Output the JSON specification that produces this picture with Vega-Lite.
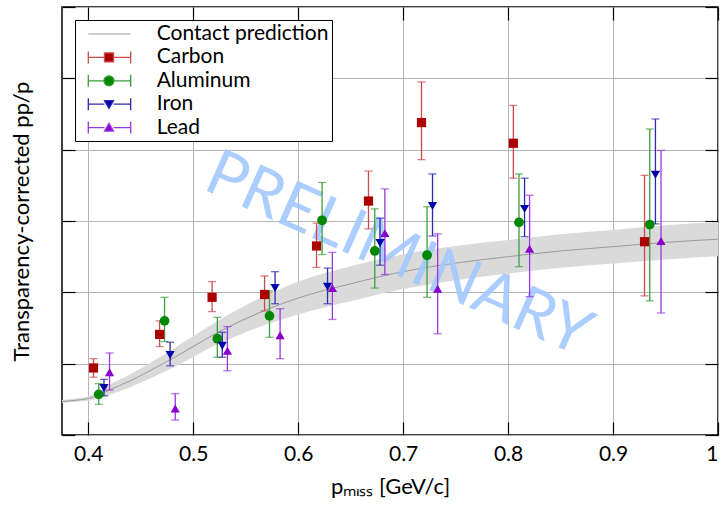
{
  "$schema": "https://vega.github.io/schema/vega-lite/v6.json",
  "width": 656,
  "height": 428,
  "autosize": "none",
  "padding": {"left": 62, "top": 7, "right": 7, "bottom": 72},
  "background": "white",
  "config": {
    "font": "Lato",
    "view": {"stroke": "black", "strokeWidth": 1.5},
    "axis": {
      "labelFont": "Lato",
      "titleFont": "Lato",
      "labelColor": "black",
      "titleColor": "black",
      "tickColor": "black",
      "gridColor": "#b4b4b4",
      "gridWidth": 1,
      "domain": false,
      "titleFontWeight": "normal"
    },
    "legend": {
      "title": null,
      "orient": "top-left",
      "offset": 13,
      "padding": 3,
      "strokeColor": "black",
      "fillColor": "white",
      "labelFont": "Lato",
      "labelFontSize": 21,
      "labelColor": "black",
      "labelLimit": 600,
      "labelOffset": 56.7,
      "rowPadding": 2.4,
      "symbolSize": 400,
      "symbolStrokeWidth": 1.3,
      "symbolOpacity": 1
    }
  },
  "datasets": {
    "points": [
      {"series": "Carbon", "x": 0.405, "y": 0.94, "lo": 0.81, "hi": 1.07},
      {"series": "Carbon", "x": 0.468, "y": 1.41, "lo": 1.24, "hi": 1.60},
      {"series": "Carbon", "x": 0.518, "y": 1.93, "lo": 1.73, "hi": 2.15},
      {"series": "Carbon", "x": 0.568, "y": 1.97, "lo": 1.74, "hi": 2.23},
      {"series": "Carbon", "x": 0.6175, "y": 2.65, "lo": 2.35, "hi": 2.97},
      {"series": "Carbon", "x": 0.667, "y": 3.28, "lo": 2.89, "hi": 3.70},
      {"series": "Carbon", "x": 0.7175, "y": 4.38, "lo": 3.86, "hi": 4.95},
      {"series": "Carbon", "x": 0.805, "y": 4.09, "lo": 3.60, "hi": 4.62},
      {"series": "Carbon", "x": 0.930, "y": 2.71, "lo": 1.95, "hi": 3.64},
      {"series": "Aluminum", "x": 0.410, "y": 0.57, "lo": 0.43, "hi": 0.72},
      {"series": "Aluminum", "x": 0.4727, "y": 1.60, "lo": 1.31, "hi": 1.93},
      {"series": "Aluminum", "x": 0.523, "y": 1.35, "lo": 1.09, "hi": 1.65},
      {"series": "Aluminum", "x": 0.5727, "y": 1.67, "lo": 1.37, "hi": 2.02},
      {"series": "Aluminum", "x": 0.6228, "y": 3.01, "lo": 2.53, "hi": 3.54},
      {"series": "Aluminum", "x": 0.673, "y": 2.58, "lo": 2.06, "hi": 3.17},
      {"series": "Aluminum", "x": 0.7228, "y": 2.52, "lo": 1.93, "hi": 3.20},
      {"series": "Aluminum", "x": 0.8104, "y": 2.98, "lo": 2.36, "hi": 3.66},
      {"series": "Aluminum", "x": 0.935, "y": 2.95, "lo": 1.88, "hi": 4.29},
      {"series": "Iron", "x": 0.415, "y": 0.66, "lo": 0.55, "hi": 0.78},
      {"series": "Iron", "x": 0.478, "y": 1.12, "lo": 0.97, "hi": 1.30},
      {"series": "Iron", "x": 0.5277, "y": 1.25, "lo": 1.09, "hi": 1.44},
      {"series": "Iron", "x": 0.578, "y": 2.06, "lo": 1.84, "hi": 2.29},
      {"series": "Iron", "x": 0.628, "y": 2.08, "lo": 1.84, "hi": 2.34},
      {"series": "Iron", "x": 0.678, "y": 2.69, "lo": 2.38, "hi": 3.04},
      {"series": "Iron", "x": 0.728, "y": 3.21, "lo": 2.79, "hi": 3.66},
      {"series": "Iron", "x": 0.8157, "y": 3.17, "lo": 2.78, "hi": 3.60},
      {"series": "Iron", "x": 0.9404, "y": 3.65, "lo": 2.96, "hi": 4.43},
      {"series": "Lead", "x": 0.4203, "y": 0.88, "lo": 0.63, "hi": 1.15},
      {"series": "Lead", "x": 0.4829, "y": 0.37, "lo": 0.21, "hi": 0.58},
      {"series": "Lead", "x": 0.5326, "y": 1.18, "lo": 0.90, "hi": 1.52},
      {"series": "Lead", "x": 0.5828, "y": 1.40, "lo": 1.07, "hi": 1.77},
      {"series": "Lead", "x": 0.6326, "y": 2.06, "lo": 1.62, "hi": 2.56},
      {"series": "Lead", "x": 0.6826, "y": 2.83, "lo": 2.25, "hi": 3.45},
      {"series": "Lead", "x": 0.7329, "y": 2.05, "lo": 1.42, "hi": 2.82},
      {"series": "Lead", "x": 0.8205, "y": 2.61, "lo": 1.94, "hi": 3.36},
      {"series": "Lead", "x": 0.9457, "y": 2.72, "lo": 1.71, "hi": 3.99}
    ],
    "band": [
      {"x": 0.375, "lo": 0.45, "mid": 0.47, "hi": 0.49},
      {"x": 0.39, "lo": 0.465, "mid": 0.49, "hi": 0.515},
      {"x": 0.40, "lo": 0.48, "mid": 0.51, "hi": 0.54},
      {"x": 0.41, "lo": 0.51, "mid": 0.56, "hi": 0.61},
      {"x": 0.42, "lo": 0.56, "mid": 0.63, "hi": 0.70},
      {"x": 0.44, "lo": 0.67, "mid": 0.76, "hi": 0.85},
      {"x": 0.46, "lo": 0.80, "mid": 0.91, "hi": 1.02},
      {"x": 0.48, "lo": 0.94, "mid": 1.07, "hi": 1.20},
      {"x": 0.50, "lo": 1.095, "mid": 1.24, "hi": 1.385},
      {"x": 0.52, "lo": 1.25, "mid": 1.41, "hi": 1.57},
      {"x": 0.55, "lo": 1.44, "mid": 1.63, "hi": 1.82},
      {"x": 0.60, "lo": 1.69, "mid": 1.92, "hi": 2.15},
      {"x": 0.65, "lo": 1.875, "mid": 2.12, "hi": 2.365},
      {"x": 0.70, "lo": 2.045, "mid": 2.29, "hi": 2.535},
      {"x": 0.75, "lo": 2.17, "mid": 2.41, "hi": 2.65},
      {"x": 0.80, "lo": 2.265, "mid": 2.50, "hi": 2.735},
      {"x": 0.85, "lo": 2.345, "mid": 2.58, "hi": 2.815},
      {"x": 0.90, "lo": 2.405, "mid": 2.64, "hi": 2.875},
      {"x": 0.95, "lo": 2.46, "mid": 2.70, "hi": 2.94},
      {"x": 1.00, "lo": 2.505, "mid": 2.745, "hi": 2.985}
    ],
    "legendEntries": [
      {"series": "Contact prediction"},
      {"series": "Carbon"},
      {"series": "Aluminum"},
      {"series": "Iron"},
      {"series": "Lead"}
    ]
  },
  "layer": [
    {
      "data": {"name": "band"},
      "mark": {"type": "area", "color": "#dadada", "interpolate": "monotone"},
      "encoding": {
        "x": {
          "field": "x", "type": "quantitative",
          "scale": {"domain": [0.375, 1.0], "nice": false, "zero": false},
          "axis": {
            "orient": "bottom",
            "values": [0.4, 0.5, 0.6, 0.7, 0.8, 0.9, 1],
            "labelExpr": "datum.value == 1 ? '1' : format(datum.value, '.1f')",
            "grid": true,
            "ticks": true,
            "tickSize": -13,
            "tickWidth": 1.2,
            "labelFontSize": 21,
            "labelPadding": 21,
            "title": "pₘᵢₛₛ [GeV/c]",
            "titleFontSize": 22,
            "titlePadding": 12
          }
        },
        "y": {
          "field": "lo", "type": "quantitative",
          "scale": {"domain": [0, 6], "nice": false, "zero": false},
          "axis": {
            "orient": "left",
            "values": [0, 1, 2, 3, 4, 5, 6],
            "grid": true,
            "ticks": true,
            "tickSize": -13,
            "tickWidth": 1.2,
            "labels": false,
            "title": "Transparency-corrected pp/p",
            "titleFontSize": 22,
            "titlePadding": 28
          }
        },
        "y2": {"field": "hi"}
      }
    },
    {
      "data": {"name": "band"},
      "mark": {"type": "line", "color": "#9a9a9a", "strokeWidth": 1, "interpolate": "monotone"},
      "encoding": {
        "x": {
          "field": "x", "type": "quantitative",
          "scale": {"domain": [0.375, 1.0], "nice": false, "zero": false},
          "axis": {
            "orient": "top",
            "values": [0.4, 0.5, 0.6, 0.7, 0.8, 0.9, 1],
            "grid": false,
            "ticks": true,
            "tickSize": -13,
            "tickWidth": 1.2,
            "labels": false,
            "title": null
          }
        },
        "y": {
          "field": "mid", "type": "quantitative",
          "scale": {"domain": [0, 6], "nice": false, "zero": false},
          "axis": {
            "orient": "right",
            "values": [0, 1, 2, 3, 4, 5, 6],
            "grid": false,
            "ticks": true,
            "tickSize": -13,
            "tickWidth": 1.2,
            "labels": false,
            "title": null
          }
        }
      }
    },
    {
      "data": {"values": [{"label": "PRELIMINARY"}]},
      "mark": {"type": "text", "angle": 24, "fontSize": 64, "font": "Lato", "fontWeight": "normal", "color": "#a2c8ff", "opacity": 0.9, "align": "center", "baseline": "middle"},
      "encoding": {
        "x": {"datum": 0.6954, "type": "quantitative", "scale": {"domain": [0.375, 1.0], "nice": false, "zero": false}, "axis": null},
        "y": {"datum": 2.52, "type": "quantitative", "scale": {"domain": [0, 6], "nice": false, "zero": false}, "axis": null},
        "text": {"field": "label"}
      }
    },
    {
      "data": {"name": "points"},
      "mark": {"type": "rule", "strokeWidth": 1.3},
      "encoding": {
        "x": {"field": "x", "type": "quantitative", "scale": {"domain": [0.375, 1.0], "nice": false, "zero": false}, "axis": null},
        "y": {"field": "lo", "type": "quantitative", "scale": {"domain": [0, 6], "nice": false, "zero": false}, "axis": null},
        "y2": {"field": "hi"},
        "color": {"field": "series", "type": "nominal", "scale": {"domain": ["Carbon", "Aluminum", "Iron", "Lead"], "range": ["#cc4a4a", "#3a9f3a", "#2a2ab0", "#9b35e0"]}, "legend": null}
      }
    },
    {
      "data": {"name": "points"},
      "mark": {"type": "tick", "orient": "horizontal", "size": 8, "thickness": 1.3},
      "encoding": {
        "x": {"field": "x", "type": "quantitative", "scale": {"domain": [0.375, 1.0], "nice": false, "zero": false}, "axis": null},
        "y": {"field": "lo", "type": "quantitative", "scale": {"domain": [0, 6], "nice": false, "zero": false}, "axis": null},
        "color": {"field": "series", "type": "nominal", "scale": {"domain": ["Carbon", "Aluminum", "Iron", "Lead"], "range": ["#cc4a4a", "#3a9f3a", "#2a2ab0", "#9b35e0"]}, "legend": null}
      }
    },
    {
      "data": {"name": "points"},
      "mark": {"type": "tick", "orient": "horizontal", "size": 8, "thickness": 1.3},
      "encoding": {
        "x": {"field": "x", "type": "quantitative", "scale": {"domain": [0.375, 1.0], "nice": false, "zero": false}, "axis": null},
        "y": {"field": "hi", "type": "quantitative", "scale": {"domain": [0, 6], "nice": false, "zero": false}, "axis": null},
        "color": {"field": "series", "type": "nominal", "scale": {"domain": ["Carbon", "Aluminum", "Iron", "Lead"], "range": ["#cc4a4a", "#3a9f3a", "#2a2ab0", "#9b35e0"]}, "legend": null}
      }
    },
    {
      "data": {"name": "points"},
      "transform": [{"filter": "datum.series === 'Carbon'"}],
      "mark": {"type": "point", "filled": true, "size": 85, "shape": "square", "color": "#aa0000", "opacity": 1},
      "encoding": {
        "x": {"field": "x", "type": "quantitative", "scale": {"domain": [0.375, 1.0], "nice": false, "zero": false}, "axis": null},
        "y": {"field": "y", "type": "quantitative", "scale": {"domain": [0, 6], "nice": false, "zero": false}, "axis": null}
      }
    },
    {
      "data": {"name": "points"},
      "transform": [{"filter": "datum.series === 'Aluminum'"}],
      "mark": {"type": "point", "filled": true, "size": 95, "shape": "circle", "color": "#008800", "opacity": 1},
      "encoding": {
        "x": {"field": "x", "type": "quantitative", "scale": {"domain": [0.375, 1.0], "nice": false, "zero": false}, "axis": null},
        "y": {"field": "y", "type": "quantitative", "scale": {"domain": [0, 6], "nice": false, "zero": false}, "axis": null}
      }
    },
    {
      "data": {"name": "points"},
      "transform": [{"filter": "datum.series === 'Iron'"}],
      "mark": {"type": "point", "filled": true, "size": 85, "shape": "triangle-down", "color": "#0000aa", "opacity": 1},
      "encoding": {
        "x": {"field": "x", "type": "quantitative", "scale": {"domain": [0.375, 1.0], "nice": false, "zero": false}, "axis": null},
        "y": {"field": "y", "type": "quantitative", "scale": {"domain": [0, 6], "nice": false, "zero": false}, "axis": null}
      }
    },
    {
      "data": {"name": "points"},
      "transform": [{"filter": "datum.series === 'Lead'"}],
      "mark": {"type": "point", "filled": true, "size": 85, "shape": "triangle-up", "color": "#8800cc", "opacity": 1},
      "encoding": {
        "x": {"field": "x", "type": "quantitative", "scale": {"domain": [0.375, 1.0], "nice": false, "zero": false}, "axis": null},
        "y": {"field": "y", "type": "quantitative", "scale": {"domain": [0, 6], "nice": false, "zero": false}, "axis": null}
      }
    },
    {
      "data": {"name": "legendEntries"},
      "mark": {"type": "point", "filled": true, "opacity": 0, "size": 1},
      "encoding": {
        "fill": {
          "field": "series", "type": "nominal",
          "scale": {"domain": ["Contact prediction", "Carbon", "Aluminum", "Iron", "Lead"], "range": ["transparent", "#aa0000", "#008800", "#0000aa", "#8800cc"]},
          "legend": {"title": null, "labelExpr": "datum.label == 'Contact prediction' ? 'Contact prediction\u2003\u2002' : datum.label"}
        },
        "stroke": {
          "field": "series", "type": "nominal",
          "scale": {"domain": ["Contact prediction", "Carbon", "Aluminum", "Iron", "Lead"], "range": ["#bdbdbd", "#cc4a4a", "#3a9f3a", "#2a2ab0", "#9b35e0"]},
          "legend": {"title": null, "labelExpr": "datum.label == 'Contact prediction' ? 'Contact prediction\u2003\u2002' : datum.label"}
        },
        "shape": {
          "field": "series", "type": "nominal",
          "scale": {"domain": ["Contact prediction", "Carbon", "Aluminum", "Iron", "Lead"], "range": [
            "M-0.07,0H4.17",
            "M-0.07,0H1.55M2.45,0H4.17M-0.07,-0.6V0.6M4.17,-0.6V0.6M1.55,-0.45H2.45V0.45H1.55Z",
            "M-0.07,0H1.5M2.5,0H4.17M-0.07,-0.6V0.6M4.17,-0.6V0.6M2.5,0A0.5,0.5 0 1,1 1.5,0A0.5,0.5 0 1,1 2.5,0Z",
            "M-0.07,0H1.55M2.45,0H4.17M-0.07,-0.6V0.6M4.17,-0.6V0.6M1.55,-0.35H2.45L2,0.42Z",
            "M-0.07,0H1.55M2.45,0H4.17M-0.07,-0.6V0.6M4.17,-0.6V0.6M1.55,0.35H2.45L2,-0.42Z"
          ]},
          "legend": {"title": null, "labelExpr": "datum.label == 'Contact prediction' ? 'Contact prediction\u2003\u2002' : datum.label"}
        }
      }
    }
  ],
  "resolve": {"axis": {"x": "independent", "y": "independent"}}
}
